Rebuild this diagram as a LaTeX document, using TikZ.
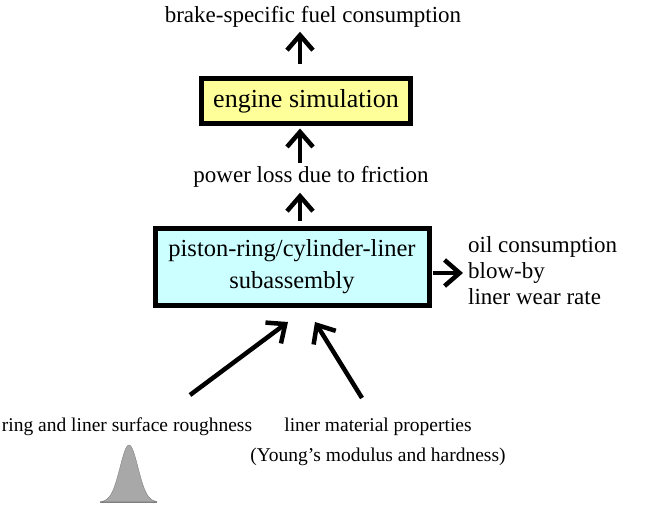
\documentclass[tikz,border=0pt]{standalone}
\usepackage{fontspec}
\setmainfont{Liberation Serif}
\usetikzlibrary{arrows.meta}
\usetikzlibrary{positioning}

\definecolor{enginefill}{HTML}{FFFF99}
\definecolor{pistonfill}{HTML}{CCFFFF}
\definecolor{bumpfill}{HTML}{A8A8A8}

\tikzset{
  label text/.style={font=\fontsize{23}{27}\selectfont, inner sep=2pt},
  input text/.style={font=\fontsize{19.5}{30}\selectfont, inner sep=2pt},
  block/.style={draw, line width=5pt, font=\fontsize{24.5}{32}\selectfont, align=center},
  flow/.style={line width=4.5pt, -{Straight Barb[length=15pt, width=26pt]}}
}

\begin{document}
\begin{tikzpicture}[x=1pt, y=-1pt]
    \useasboundingbox (0, 0) rectangle (649, 508);
    \coordinate (spine) at (300, 0);

    \node [label text] (bsfc) at (313, 17) {brake-specific fuel consumption};
    \node [block, fill=enginefill, minimum width=209pt, minimum height=45pt, font=\fontsize{26}{32}\selectfont] (engine) at (306, 101) {engine simulation};
    \node [label text] (power) at (311, 177) {power loss due to friction};
    \node [block, fill=pistonfill, minimum width=274pt, minimum height=77pt] (piston) at (292, 267) {piston-ring/cylinder-liner\\subassembly};
    \node [label text, anchor=west, align=left, font=\fontsize{23}{26}\selectfont] (outputs) at (466, 271) {oil consumption\\blow-by\\liner wear rate};

    \node [input text] (rough) at (127, 427) {ring and liner surface roughness};
    \node [input text, align=center] (material) at (378, 442) {liner material properties\\(Young's modulus and hardness)};

    \coordinate (roughtail) at (190, 395);
    \coordinate (materialtail) at (362, 398);

    \draw [flow] ([yshift=12pt]engine.north -| spine) -- ([yshift=-2pt]bsfc.south -| spine);
    \draw [flow] ([yshift=1pt]power.north -| spine) -- ([yshift=-2.5pt]engine.south -| spine);
    \draw [flow] ([yshift=5pt]piston.north -| spine) -- ([yshift=-3pt]power.south -| spine);
    \draw [flow] ([yshift=-6pt, xshift=1pt]piston.east) coordinate (pe) -- ([xshift=-3pt]pe -| outputs.west);
    \draw [flow] (roughtail) -- ([xshift=-4pt, yshift=-14pt]piston.south);
    \draw [flow] (materialtail) -- ([xshift=23pt, yshift=-14pt]piston.south);

    % surface roughness distribution
    \draw [fill=bumpfill, draw=gray] plot [domain=100:157, samples=60, smooth] (\x, {502 - 57*exp(-((\x-129)/9)^2/2)}) -- cycle;
    \draw [gray, line width=1pt] (100, 502) -- (157, 502);
\end{tikzpicture}
\end{document}
